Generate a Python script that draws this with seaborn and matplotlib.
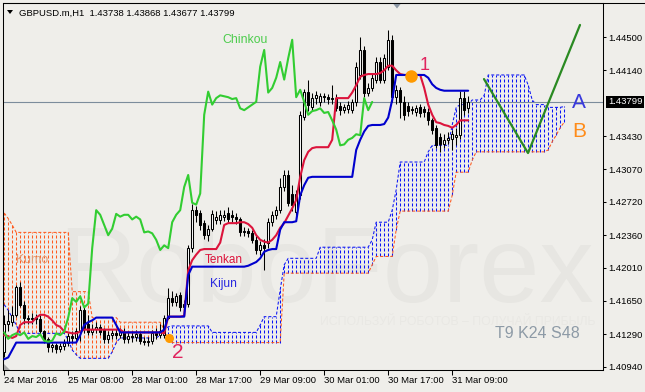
import matplotlib
matplotlib.use("Agg")
import matplotlib.pyplot as plt
from matplotlib.patches import Polygon
from matplotlib.lines import Line2D
import matplotlib.transforms as mtransforms
import numpy as np
import seaborn as sns

# ---------------- data ----------------
symbol_header = "GBPUSD.m,H1  1.43738 1.43868 1.43677 1.43799"
last_price = 1.43799

xtick_pos = [0, 16, 32, 48, 64, 80, 96, 112]
xtick_labels = ["24 Mar 2016", "25 Mar 08:00", "28 Mar 01:00", "28 Mar 17:00",
                "29 Mar 09:00", "30 Mar 01:00", "30 Mar 17:00", "31 Mar 09:00"]
ytick_vals = [1.44500, 1.44140, 1.43430, 1.43070, 1.42720, 1.42360,
              1.42010, 1.41650, 1.41290, 1.40940]

open_ = [
    1.4110, 1.4140, 1.4142, 1.4150, 1.4180, 1.4161, 1.4147, 1.4145, 1.4147, 1.4146,
    1.4132, 1.4124, 1.4115, 1.4117, 1.4113, 1.4116, 1.4120, 1.4127, 1.4125, 1.4133,
    1.4155, 1.4140, 1.4131, 1.4135, 1.4137, 1.4134, 1.4124, 1.4128, 1.4130, 1.4128,
    1.4131, 1.4124, 1.4127, 1.4126, 1.4129, 1.4122, 1.4121, 1.4122, 1.4130, 1.4128,
    1.4128, 1.4147, 1.4168, 1.4164, 1.4171, 1.4158, 1.4162, 1.4222, 1.4263, 1.4260,
    1.4249, 1.4236, 1.4243, 1.4252, 1.4252, 1.4256, 1.4260, 1.4258, 1.4256, 1.4253,
    1.4239, 1.4240, 1.4238, 1.4231, 1.4220, 1.4225, 1.4228, 1.4250, 1.4258, 1.4263,
    1.4288, 1.4301, 1.4281, 1.4261, 1.4279, 1.4364, 1.4391, 1.4374, 1.4384, 1.4380,
    1.4386, 1.4385, 1.4383, 1.4384, 1.4376, 1.4371, 1.4372, 1.4371, 1.4380, 1.4409,
    1.4436, 1.4390, 1.4395, 1.4404, 1.4423, 1.4404, 1.4418, 1.4447, 1.4385, 1.4393,
    1.4380, 1.4376, 1.4372, 1.4369, 1.4374, 1.4372, 1.4369, 1.4360, 1.4352, 1.4342,
    1.4334, 1.4339, 1.4340, 1.4342, 1.4344, 1.4384, 1.43738]
high = [
    1.4150, 1.4155, 1.4160, 1.4182, 1.4185, 1.4165, 1.4150, 1.4152, 1.4151, 1.4150,
    1.4134, 1.4126, 1.4120, 1.4120, 1.4120, 1.4124, 1.4130, 1.4132, 1.4136, 1.4160,
    1.4160, 1.4150, 1.4140, 1.4142, 1.4140, 1.4136, 1.4132, 1.4134, 1.4135, 1.4136,
    1.4136, 1.4132, 1.4133, 1.4134, 1.4131, 1.4126, 1.4126, 1.4134, 1.4136, 1.4140,
    1.4150, 1.4179, 1.4176, 1.4174, 1.4175, 1.4166, 1.4225, 1.4270, 1.4268, 1.4263,
    1.4252, 1.4247, 1.4263, 1.4262, 1.4263, 1.4263, 1.4266, 1.4263, 1.4260, 1.4256,
    1.4245, 1.4244, 1.4242, 1.4235, 1.4230, 1.4232, 1.4255, 1.4262, 1.4268, 1.4298,
    1.4306, 1.4306, 1.4290, 1.4285, 1.4370, 1.4394, 1.4404, 1.4390, 1.4392, 1.4390,
    1.4390, 1.4388, 1.4398, 1.4388, 1.4380, 1.4378, 1.4381, 1.4383, 1.4423, 1.4450,
    1.4440, 1.4400, 1.4410, 1.4428, 1.4428, 1.4432, 1.4458, 1.4452, 1.4398, 1.4396,
    1.4386, 1.4380, 1.4376, 1.4377, 1.4378, 1.4375, 1.4373, 1.4363, 1.4355, 1.4346,
    1.4345, 1.4347, 1.4350, 1.4352, 1.4392, 1.4392, 1.43868]
low = [
    1.4104, 1.4132, 1.4138, 1.4148, 1.4158, 1.4140, 1.4140, 1.4140, 1.4140, 1.4128,
    1.4120, 1.4110, 1.4110, 1.4109, 1.4110, 1.4112, 1.4116, 1.4120, 1.4121, 1.4122,
    1.4130, 1.4128, 1.4128, 1.4130, 1.4128, 1.4120, 1.4120, 1.4124, 1.4124, 1.4125,
    1.4120, 1.4120, 1.4121, 1.4122, 1.4118, 1.4117, 1.4116, 1.4119, 1.4124, 1.4125,
    1.4125, 1.4145, 1.4160, 1.4160, 1.4154, 1.4153, 1.4158, 1.4218, 1.4250, 1.4242,
    1.4232, 1.4230, 1.4240, 1.4248, 1.4248, 1.4251, 1.4249, 1.4250, 1.4248, 1.4235,
    1.4235, 1.4234, 1.4228, 1.4216, 1.4215, 1.4198, 1.4222, 1.4246, 1.4254, 1.4260,
    1.4284, 1.4268, 1.4262, 1.4255, 1.4275, 1.4360, 1.4370, 1.4370, 1.4378, 1.4376,
    1.4380, 1.4378, 1.4378, 1.4370, 1.4366, 1.4368, 1.4368, 1.4368, 1.4376, 1.4405,
    1.4385, 1.4386, 1.4392, 1.4400, 1.4400, 1.4400, 1.4414, 1.4380, 1.4378, 1.4363,
    1.4360, 1.4365, 1.4367, 1.4365, 1.4364, 1.4364, 1.4355, 1.4345, 1.4330, 1.4326,
    1.4330, 1.4334, 1.4328, 1.4333, 1.4340, 1.4366, 1.43677]
close = [
    1.4140, 1.4143, 1.4150, 1.4180, 1.4161, 1.4147, 1.4145, 1.4147, 1.4146, 1.4132,
    1.4124, 1.4115, 1.4117, 1.4113, 1.4116, 1.4120, 1.4127, 1.4125, 1.4133, 1.4155,
    1.4136, 1.4131, 1.4135, 1.4137, 1.4131, 1.4124, 1.4128, 1.4130, 1.4128, 1.4131,
    1.4124, 1.4127, 1.4126, 1.4129, 1.4122, 1.4121, 1.4122, 1.4130, 1.4128, 1.4132,
    1.4147, 1.4168, 1.4164, 1.4170, 1.4158, 1.4162, 1.4222, 1.4263, 1.4258, 1.4247,
    1.4236, 1.4243, 1.4259, 1.4256, 1.4258, 1.4258, 1.4253, 1.4256, 1.4253, 1.4239,
    1.4240, 1.4238, 1.4231, 1.4220, 1.4225, 1.4222, 1.4250, 1.4258, 1.4263, 1.4288,
    1.4301, 1.4271, 1.4269, 1.4281, 1.4366, 1.4391, 1.4377, 1.4384, 1.4387, 1.4386,
    1.4385, 1.4383, 1.4384, 1.4373, 1.4371, 1.4374, 1.4377, 1.4380, 1.4418, 1.4436,
    1.4390, 1.4395, 1.4406, 1.4423, 1.4404, 1.4427, 1.4447, 1.4385, 1.4393, 1.4380,
    1.4366, 1.4370, 1.4371, 1.4373, 1.4368, 1.4369, 1.4360, 1.4350, 1.4333, 1.4334,
    1.4339, 1.4341, 1.4345, 1.4344, 1.4384, 1.4371, 1.43799]

tenkan = [
    1.4128, 1.4127, 1.4125, 1.4127, 1.4139, 1.4142, 1.4142, 1.4142, 1.4147, 1.4150,
    1.4150, 1.4148, 1.4144, 1.4139, 1.4137, 1.4132, 1.4131, 1.4130, 1.4130, 1.4132,
    1.4134, 1.4134, 1.4134, 1.4134, 1.4134, 1.4134, 1.4134, 1.4134, 1.4134, 1.4134,
    1.4131, 1.4131, 1.4131, 1.4131, 1.4131, 1.4131, 1.4131, 1.4131, 1.4131, 1.4131,
    1.4130, 1.4148, 1.4148, 1.4148, 1.4148, 1.4149, 1.4198, 1.4209, 1.4215, 1.4220,
    1.4221, 1.4221, 1.4221, 1.4221, 1.4228, 1.4247, 1.4249, 1.4249, 1.4249, 1.4250,
    1.4250, 1.4248, 1.4244, 1.4236, 1.4231, 1.4229, 1.4228, 1.4231, 1.4236, 1.4244,
    1.4249, 1.4257, 1.4265, 1.4274, 1.4299, 1.4317, 1.4326, 1.4330, 1.4331, 1.4331,
    1.4331, 1.4331, 1.4339, 1.4384, 1.4384, 1.4384, 1.4384, 1.4390, 1.4398, 1.4407,
    1.4409, 1.4410, 1.4410, 1.4410, 1.4411, 1.4414, 1.4419, 1.4419, 1.4414, 1.4410,
    1.4409, 1.4409, 1.4409, 1.4409, 1.4409, 1.4395, 1.4377, 1.4366, 1.4358, 1.4357,
    1.4355, 1.4354, 1.4352, 1.4355, 1.4360, 1.4360, 1.4360]
kijun = [
    1.4102, 1.4104, 1.4112, 1.4120, 1.4120, 1.4120, 1.4120, 1.4120, 1.4120, 1.4120,
    1.4120, 1.4120, 1.4120, 1.4120, 1.4120, 1.4120, 1.4120, 1.4120, 1.4120, 1.4128,
    1.4139, 1.4142, 1.4144, 1.4147, 1.4147, 1.4147, 1.4147, 1.4147, 1.4139, 1.4131,
    1.4131, 1.4131, 1.4131, 1.4131, 1.4131, 1.4131, 1.4131, 1.4131, 1.4131, 1.4131,
    1.4134, 1.4148, 1.4148, 1.4148, 1.4148, 1.4148, 1.4193, 1.4202, 1.4202, 1.4202,
    1.4202, 1.4202, 1.4202, 1.4202, 1.4202, 1.4202, 1.4202, 1.4202, 1.4202, 1.4202,
    1.4202, 1.4203, 1.4205, 1.4207, 1.4211, 1.4218, 1.4220, 1.4221, 1.4221, 1.4242,
    1.4250, 1.4250, 1.4250, 1.4251, 1.4279, 1.4290, 1.4298, 1.4299, 1.4299, 1.4299,
    1.4299, 1.4299, 1.4299, 1.4299, 1.4299, 1.4299, 1.4299, 1.4299, 1.4328, 1.4339,
    1.4348, 1.4354, 1.4355, 1.4355, 1.4355, 1.4356, 1.4363, 1.4382, 1.4409, 1.4409,
    1.4409, 1.4409, 1.4409, 1.4409, 1.4409, 1.4409, 1.4406, 1.4399, 1.4395, 1.4393,
    1.4392, 1.4392, 1.4392, 1.4392, 1.4392, 1.4392, 1.4392]

senkou_a = [
    1.4161, 1.4155, 1.4147, 1.4139, 1.4130, 1.4130, 1.4130, 1.4130, 1.4130, 1.4130,
    1.4130, 1.4130, 1.4130, 1.4130, 1.4130, 1.4130, 1.4123, 1.4112, 1.4107, 1.4103,
    1.4103, 1.4103, 1.4103, 1.4103, 1.4103, 1.4103, 1.4103, 1.4110, 1.4120, 1.4125,
    1.4125, 1.4125, 1.4125, 1.4125, 1.4125, 1.4125, 1.4125, 1.4125, 1.4125, 1.4128,
    1.4134, 1.4137, 1.4138, 1.4138, 1.4138, 1.4138, 1.4138, 1.4138, 1.4138, 1.4138,
    1.4138, 1.4138, 1.4131, 1.4131, 1.4131, 1.4131, 1.4131, 1.4131, 1.4131, 1.4131,
    1.4131, 1.4131, 1.4131, 1.4131, 1.4139, 1.4148, 1.4148, 1.4148, 1.4148, 1.4177,
    1.4204, 1.4211, 1.4211, 1.4211, 1.4211, 1.4211, 1.4211, 1.4211, 1.4211, 1.4223,
    1.4223, 1.4223, 1.4223, 1.4223, 1.4223, 1.4223, 1.4223, 1.4223, 1.4223, 1.4223,
    1.4223, 1.4223, 1.4231, 1.4250, 1.4250, 1.4250, 1.4250, 1.4263, 1.4285, 1.4315,
    1.4315, 1.4315, 1.4315, 1.4315, 1.4315, 1.4315, 1.4326, 1.4333, 1.4333, 1.4333,
    1.4333, 1.4333, 1.4355, 1.4374, 1.4377, 1.4377, 1.4377, 1.4382, 1.4382, 1.4382,
    1.4387, 1.4409, 1.4409, 1.4409, 1.4409, 1.4409, 1.4409, 1.4409, 1.4409, 1.4409,
    1.4409, 1.4398, 1.4382, 1.4377, 1.4377, 1.4377, 1.4374, 1.4374, 1.4374, 1.4374,
    1.4375]
senkou_b = [
    1.4260, 1.4254, 1.4247, 1.4239, 1.4239, 1.4239, 1.4239, 1.4239, 1.4239, 1.4239,
    1.4239, 1.4239, 1.4239, 1.4239, 1.4239, 1.4239, 1.4239, 1.4175, 1.4175, 1.4175,
    1.4175, 1.4175, 1.4147, 1.4147, 1.4147, 1.4147, 1.4147, 1.4147, 1.4147, 1.4142,
    1.4142, 1.4142, 1.4142, 1.4142, 1.4142, 1.4142, 1.4142, 1.4142, 1.4142, 1.4142,
    1.4134, 1.4123, 1.4120, 1.4120, 1.4120, 1.4120, 1.4120, 1.4120, 1.4120, 1.4120,
    1.4120, 1.4120, 1.4120, 1.4120, 1.4120, 1.4120, 1.4120, 1.4120, 1.4120, 1.4120,
    1.4120, 1.4120, 1.4120, 1.4120, 1.4120, 1.4120, 1.4120, 1.4120, 1.4120, 1.4120,
    1.4195, 1.4195, 1.4195, 1.4195, 1.4195, 1.4195, 1.4195, 1.4195, 1.4195, 1.4195,
    1.4195, 1.4195, 1.4195, 1.4195, 1.4195, 1.4195, 1.4195, 1.4195, 1.4195, 1.4195,
    1.4195, 1.4195, 1.4204, 1.4213, 1.4213, 1.4213, 1.4213, 1.4213, 1.4242, 1.4262,
    1.4262, 1.4262, 1.4262, 1.4262, 1.4262, 1.4262, 1.4262, 1.4262, 1.4262, 1.4262,
    1.4262, 1.4262, 1.4279, 1.4304, 1.4304, 1.4304, 1.4304, 1.4317, 1.4326, 1.4326,
    1.4326, 1.4326, 1.4326, 1.4326, 1.4326, 1.4326, 1.4326, 1.4326, 1.4326, 1.4326,
    1.4326, 1.4326, 1.4326, 1.4326, 1.4326, 1.4326, 1.4328, 1.4337, 1.4344, 1.4352,
    1.4358]

chinkou_shift = 24          # T9 K24 S48: lagging line drawn 24 bars back

# hand-drawn annotations
forecast_bar = [119.95, 130.95, 143.95]
forecast_price = [1.44046, 1.43247, 1.44630]
circle_bar = [101.7, 41.2]
circle_price = [1.44079, 1.41249]

# ---------------- style ----------------
sns.set_theme(style="white")
plt.rcParams["font.family"] = ["Liberation Sans", "DejaVu Sans"]
plt.rcParams["axes.linewidth"] = 0.75

BG = "#EFEEEA"
BLUE = "#0A14F5"
ORANGE = "#FF5A1E"
W, H = 645, 392

fig = plt.figure(figsize=(W / 100, H / 100), dpi=100, facecolor=BG)
ax = fig.add_axes([3.3 / W, 1 - 370 / H, (602.7 - 3.3) / W, (370 - 3.3) / H])
ax.set_facecolor(BG)
for s in ax.spines.values():
    s.set_color("black")
    s.set_linewidth(0.75)

ax.set_xlim(-0.225, 149.625)
ax.set_ylim(1.40904, 1.44864)

# watermark
ax.text(80.45, 1.41638, "RoboForex", fontsize=78, color="#E7E6E2",
        ha="center", va="baseline", zorder=0.3)
ax.text(78.95, 1.41422, "ИСПОЛЬЗУЙ РОБОТОВ – ПОЛУЧАЙ ПРИБЫЛЬ", fontsize=8.8,
        color="#E9E8E4", ha="left", va="center", zorder=0.3)

# ---------------- Kumo (cloud) ----------------
sa = np.array(senkou_a)
sb = np.array(senkou_b)
cx = np.arange(len(sa))
bull = sa >= sb
dots = (0, (2.9, 1.9))
ax.vlines(cx[bull], sb[bull], sa[bull], colors=BLUE, linestyles=dots, lw=0.75, zorder=1)
ax.vlines(cx[~bull], sa[~bull], sb[~bull], colors=ORANGE, linestyles=dots, lw=0.75, zorder=1)
ax.plot(cx, sa, color=BLUE, ls=dots, lw=0.75, zorder=1.2)
ax.plot(cx, sb, color=ORANGE, ls=dots, lw=0.75, zorder=1.2)

# current price line
ax.axhline(last_price, color="#7C8C9C", lw=0.8, zorder=2)

# ---------------- candles ----------------
o = np.array(open_)
h = np.array(high)
l = np.array(low)
c = np.array(close)
bx = np.arange(len(c))
up = c >= o
ax.vlines(bx, l, h, color="black", lw=0.75, zorder=3)
ax.bar(bx, np.maximum(np.abs(c - o), 0.00002), bottom=np.minimum(o, c), width=0.5,
       color=np.where(up, "white", "black"), edgecolor="black", linewidth=0.75, zorder=3.1)

# ---------------- Ichimoku lines ----------------
sns.lineplot(x=bx, y=tenkan, color="#DC143C", lw=1.5, ax=ax, errorbar=None, zorder=4)
sns.lineplot(x=bx, y=kijun, color="#0000CD", lw=1.5, ax=ax, errorbar=None, zorder=4)
chinkou = c[chinkou_shift:]
sns.lineplot(x=np.arange(len(chinkou)), y=chinkou, color="#32CD32", lw=1.5, ax=ax,
             errorbar=None, zorder=4.2)

# forecast and markers
sns.lineplot(x=forecast_bar, y=forecast_price, color="#2A8A22", lw=1.6, ax=ax,
             sort=False, errorbar=None, zorder=5)
ax.plot(circle_bar[0], circle_price[0], "o", ms=9, color="#FF9A00", mec="none", zorder=5)
ax.plot(circle_bar[1], circle_price[1], "o", ms=6.5, color="#FF9A00", mec="none", zorder=5)

# labels
ax.text(54.45, 1.44435, "Chinkou", fontsize=8.8, color="#4CCC4C", ha="left", va="baseline", zorder=6)
ax.text(2.95, 1.42059, "Kumo", fontsize=8.8, color="#E39B73", ha="left", va="baseline", zorder=6)
ax.text(50.2, 1.42059, "Tenkan", fontsize=8.5, color="#DC143C", ha="left", va="baseline", zorder=6)
ax.text(51.45, 1.41800, "Kijun", fontsize=8.7, color="#2A2AE0", ha="left", va="baseline", zorder=6)
ax.text(103.95, 1.44144, "1", fontsize=13, color="#E0245E", ha="left", va="baseline", zorder=6)
ax.text(41.95, 1.41033, "2", fontsize=15, color="#E0245E", ha="left", va="baseline", zorder=6)
ax.text(141.95, 1.43733, "A", fontsize=15, color="#3A3ADC", ha="left", va="baseline", zorder=6)
ax.text(141.95, 1.43420, "B", fontsize=15, color="#FF8C1A", ha="left", va="baseline", zorder=6)
ax.text(122.7, 1.41249, "T9 K24 S48", fontsize=11.5, color="#8D9AA6", ha="left", va="baseline", zorder=6)

# ---------------- axes ticks ----------------
ax.yaxis.tick_right()
ax.set_yticks(ytick_vals)
ax.set_yticklabels([f"{v:.5f}" for v in ytick_vals])
ax.tick_params(axis="y", which="both", direction="out", length=2.2, width=0.75, pad=1.5,
               labelsize=6.8, colors="black", left=False, right=True,
               labelleft=False, labelright=True)
ax.set_xticks(xtick_pos)
ax.set_xticklabels(xtick_labels, ha="left")
ax.tick_params(axis="x", direction="out", length=3.6, width=0.75, pad=0.8,
               labelsize=6.8, colors="black", bottom=True)
ax.set_xlabel("")
ax.set_ylabel("")
ax.grid(False)

# price label on the scale
trans = mtransforms.blended_transform_factory(ax.transAxes, ax.transData)
ax.text(1.0 + 5.3 / 599.4, last_price, f"{last_price:.5f}", transform=trans,
        ha="left", va="center", color="white", fontsize=6.8,
        bbox=dict(boxstyle="square,pad=0.2", fc="black", ec="none"),
        clip_on=False, zorder=10)

# header and chart decorations
fig.text(19 / W, 1 - 15.5 / H, symbol_header, fontsize=6.8, color="black",
         ha="left", va="baseline")
fig.add_artist(Polygon([[7 / W, 1 - 10 / H], [13 / W, 1 - 10 / H], [10 / W, 1 - 14 / H]],
                       closed=True, transform=fig.transFigure, fc="black", ec="none"))
fig.add_artist(Polygon([[393 / W, 1 - 3.5 / H], [401 / W, 1 - 3.5 / H], [397 / W, 1 - 8.5 / H]],
                       closed=True, transform=fig.transFigure, fc="#8A96A4", ec="none"))
fig.add_artist(Polygon([[3.5 / W, 1 - 363.5 / H], [3.5 / W, 1 - 370 / H], [9.5 / W, 1 - 370 / H]],
                       closed=True, transform=fig.transFigure, fc="#A8A8A8", ec="none"))
fig.add_artist(Line2D([3.3 / W, 1.0], [1 - 3.3 / H, 1 - 3.3 / H], transform=fig.transFigure,
                      color="black", lw=0.75))

fig.savefig("out.png", dpi=100, facecolor=BG)
